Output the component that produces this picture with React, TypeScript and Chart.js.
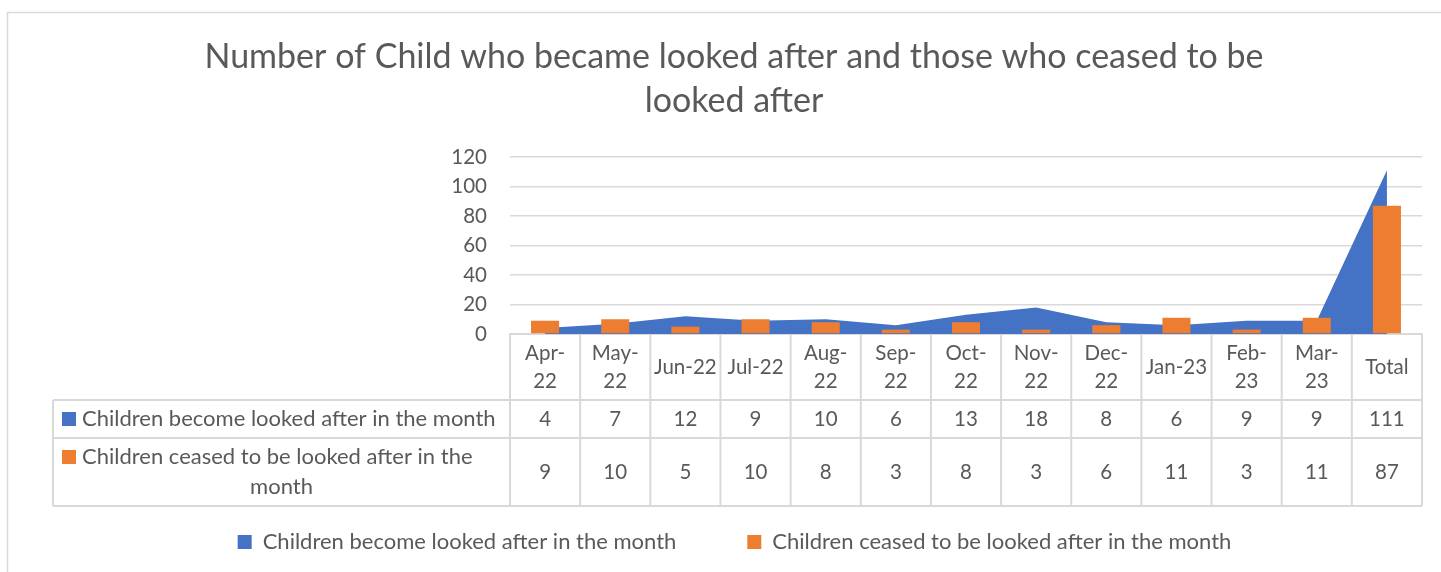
import React, { useEffect, useRef } from "react";
import { Chart, registerables } from "chart.js";

Chart.register(...registerables);

// ---------- data ----------
const CATEGORIES = ["Apr-22", "May-22", "Jun-22", "Jul-22", "Aug-22", "Sep-22", "Oct-22", "Nov-22", "Dec-22", "Jan-23", "Feb-23", "Mar-23", "Total"];
const CATEGORY_LINES = [["Apr-", "22"], ["May-", "22"], ["Jun-22"], ["Jul-22"], ["Aug-", "22"], ["Sep-", "22"], ["Oct-", "22"], ["Nov-", "22"], ["Dec-", "22"], ["Jan-23"], ["Feb-", "23"], ["Mar-", "23"], ["Total"]];
const BECAME = [4, 7, 12, 9, 10, 6, 13, 18, 8, 6, 9, 9, 111];
const CEASED = [9, 10, 5, 10, 8, 3, 8, 3, 6, 11, 3, 11, 87];
const SERIES_BECAME = "Children become looked after in the month";
const SERIES_CEASED = "Children ceased to be looked after in the month";
const CEASED_LABEL_LINES = ["Children ceased to be looked after in the", "month"];
const TITLE_LINES = ["Number of Child who became looked after and those who ceased to be", "looked after"];
const Y_MIN = 0;
const Y_MAX = 120;
const Y_STEP = 20;

// ---------- styles ----------
const FONT = "Lato";
const TEXT = "#595959";
const LINE = "#d9d9d9";
const BLUE = "#4472C4";
const ORANGE = "#ED7D31";

const framePlugin = {
  id: "frame",
  beforeDraw(chart: any) {
    const ctx = chart.ctx;
    ctx.save();
    ctx.fillStyle = "#ffffff";
    ctx.fillRect(0, 0, chart.width, chart.height);
    ctx.strokeStyle = LINE;
    ctx.lineWidth = 1.5;
    ctx.strokeRect(7.5, 12.5, chart.width + 60, chart.height + 60);
    ctx.fillStyle = TEXT;
    ctx.font = `34px ${FONT}`;
    ctx.textAlign = "center";
    ctx.textBaseline = "middle";
    TITLE_LINES.forEach((t, i) => ctx.fillText(t, 734, 57 + i * 44));
    ctx.restore();
  },
};

const tablePlugin = {
  id: "dataTable",
  afterDraw(chart: any) {
    const { ctx, chartArea } = chart;
    const xs = chart.scales.x;
    const n = CATEGORIES.length;
    const step = (chartArea.right - chartArea.left) / n;
    const top = chartArea.bottom;
    const tableLeft = 53;
    const headerBottom = 400;
    const row1Bottom = 438;
    const row2Bottom = 506;
    const right = chartArea.right;

    ctx.save();
    ctx.strokeStyle = LINE;
    ctx.lineWidth = 2;
    const seg = (x1: number, y1: number, x2: number, y2: number) => {
      ctx.beginPath();
      ctx.moveTo(x1, y1);
      ctx.lineTo(x2, y2);
      ctx.stroke();
    };
    for (let i = 0; i <= n; i++) {
      const px = i < n ? xs.getPixelForValue(i) - step / 2 : xs.getPixelForValue(n - 1) + step / 2;
      seg(px, top, px, row2Bottom);
    }
    seg(tableLeft, headerBottom, right, headerBottom);
    seg(tableLeft, row1Bottom, right, row1Bottom);
    seg(tableLeft, row2Bottom, right, row2Bottom);
    seg(tableLeft, headerBottom, tableLeft, row2Bottom);

    ctx.fillStyle = TEXT;
    ctx.font = `20.5px ${FONT}`;
    ctx.textAlign = "center";
    ctx.textBaseline = "middle";
    const headerMid = (top + headerBottom) / 2;
    const r1Mid = (headerBottom + row1Bottom) / 2;
    const r2Mid = (row1Bottom + row2Bottom) / 2;
    for (let i = 0; i < n; i++) {
      const cx = xs.getPixelForValue(i);
      const lines = CATEGORY_LINES[i];
      const lh = 28;
      lines.forEach((l, j) => ctx.fillText(l, cx, headerMid + (j - (lines.length - 1) / 2) * lh));
      ctx.fillText(String(BECAME[i]), cx, r1Mid);
      ctx.fillText(String(CEASED[i]), cx, r2Mid);
    }

    // row headers with legend keys
    ctx.font = `22px ${FONT}`;
    const cellLeft = tableLeft;
    const cellRight = chartArea.left;
    const cellMid = (cellLeft + cellRight) / 2;
    const keyX = cellLeft + 9;
    const textX = cellLeft + 29;
    ctx.fillStyle = BLUE;
    ctx.fillRect(keyX, r1Mid - 7, 14, 14);
    ctx.fillStyle = TEXT;
    ctx.textAlign = "left";
    ctx.fillText(SERIES_BECAME, textX, r1Mid);

    const lh2 = 30;
    const y1 = r2Mid - lh2 / 2;
    ctx.fillStyle = ORANGE;
    ctx.fillRect(keyX, y1 - 7, 14, 14);
    ctx.fillStyle = TEXT;
    ctx.fillText(CEASED_LABEL_LINES[0], textX, y1);
    ctx.textAlign = "center";
    ctx.fillText(CEASED_LABEL_LINES[1], cellMid, y1 + lh2);
    ctx.restore();
  },
};

export default function App() {
  const ref = useRef<HTMLCanvasElement | null>(null);
  useEffect(() => {
    if (!ref.current) return;
    const chart = new Chart(ref.current, {
      type: "bar",
      data: {
        labels: CATEGORIES,
        datasets: [
          {
            type: "line",
            label: SERIES_BECAME,
            data: BECAME,
            backgroundColor: BLUE,
            borderColor: BLUE,
            borderWidth: 0,
            pointRadius: 0,
            fill: "origin",
            tension: 0,
            order: 2,
          } as any,
          {
            type: "bar",
            label: SERIES_CEASED,
            data: CEASED,
            backgroundColor: ORANGE,
            borderWidth: 0,
            barPercentage: 0.4,
            categoryPercentage: 1,
            order: 1,
          },
        ],
      },
      options: {
        responsive: false,
        animation: false,
        devicePixelRatio: 1,
        events: [],
        layout: { padding: { left: 47, right: 19, top: 157, bottom: 9 } },
        plugins: {
          title: { display: false },
          tooltip: { enabled: false },
          legend: {
            position: "bottom",
            labels: {
              boxWidth: 14,
              boxHeight: 14,
              padding: 71,
              color: TEXT,
              font: { family: FONT, size: 22 },
              sort: (a: any, b: any) => a.datasetIndex - b.datasetIndex,
            },
          },
        },
        scales: {
          x: {
            grid: { display: false },
            ticks: { display: false },
            border: { display: true, color: LINE, width: 2 },
            afterFit: (s: any) => {
              s.height = 126;
            },
          },
          y: {
            min: Y_MIN,
            max: Y_MAX,
            ticks: { stepSize: Y_STEP, padding: 23, color: TEXT, font: { family: FONT, size: 20.5 } },
            grid: { color: LINE, lineWidth: 1.5, drawTicks: false },
            border: { display: false },
            afterFit: (s: any) => {
              s.width = 463;
            },
          },
        },
      },
      plugins: [framePlugin, tablePlugin],
    });
    return () => chart.destroy();
  }, []);
  return (
    <div style={{ position: "fixed", left: 0, top: 0, width: 1441, height: 572, background: "#fff" }}>
      <canvas ref={ref} width={1441} height={572} style={{ display: "block" }} />
    </div>
  );
}
